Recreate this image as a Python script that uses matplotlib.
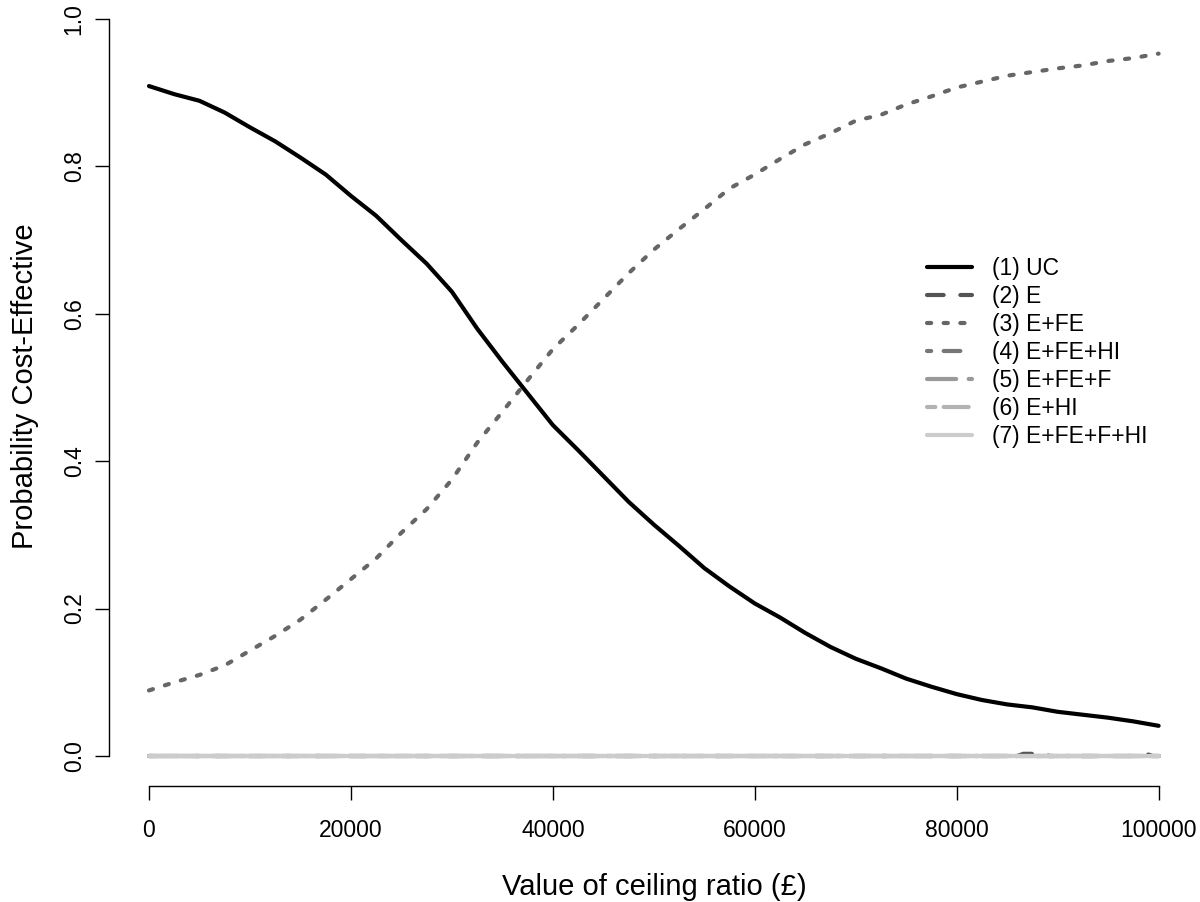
import matplotlib
matplotlib.use("Agg")
import matplotlib.pyplot as plt

plt.rcParams['font.family'] = ['Liberation Sans', 'DejaVu Sans']

# ceiling ratio grid (GBP) and probabilities
wtp = [0, 2500, 5000, 7500, 10000, 12500, 15000, 17500, 20000, 22500,
       25000, 27500, 30000, 32500, 35000, 37500, 40000, 42500, 45000, 47500,
       50000, 52500, 55000, 57500, 60000, 62500, 65000, 67500, 70000, 72500,
       75000, 77500, 80000, 82500, 85000, 87500, 90000, 92500, 95000, 97500,
       100000]

uc = [0.909, 0.898, 0.889, 0.873, 0.853, 0.834, 0.812, 0.789, 0.760, 0.733,
      0.700, 0.668, 0.630, 0.580, 0.535, 0.492, 0.449, 0.415, 0.380, 0.345,
      0.314, 0.285, 0.255, 0.230, 0.207, 0.188, 0.167, 0.148, 0.132, 0.119,
      0.105, 0.094, 0.084, 0.076, 0.070, 0.066, 0.060, 0.056, 0.052, 0.047,
      0.041]

e_fe = [0.089, 0.100, 0.110, 0.123, 0.143, 0.163, 0.185, 0.212, 0.240, 0.268,
        0.303, 0.335, 0.375, 0.425, 0.467, 0.510, 0.552, 0.585, 0.620, 0.655,
        0.687, 0.715, 0.742, 0.770, 0.789, 0.810, 0.830, 0.845, 0.862, 0.870,
        0.884, 0.895, 0.907, 0.915, 0.923, 0.928, 0.933, 0.937, 0.943, 0.947,
        0.953]

# strategy E is ~0 apart from two small blips near the right end
wtp_e = [0, 86000, 86600, 88600, 89200, 98600, 99000, 99400, 100000]
e = [0.0, 0.0, 0.003, 0.003, 0.0, 0.0, 0.002, 0.0, 0.0]

# the remaining strategies stay at zero
wtp_flat = [0, 25000, 50000, 75000, 100000]
e_fe_hi = [0.0, 0.0, 0.0, 0.0, 0.0]
e_fe_f = [0.0, 0.0, 0.0, 0.0, 0.0]
e_hi = [0.0, 0.0, 0.0, 0.0, 0.0]
e_fe_f_hi = [0.0, 0.0, 0.0, 0.0, 0.0]

labels = ["(1) UC", "(2) E", "(3) E+FE", "(4) E+FE+HI",
          "(5) E+FE+F", "(6) E+HI", "(7) E+FE+F+HI"]
greys = ["#000000", "#555555", "#666666", "#777777", "#999999", "#b3b3b3", "#cccccc"]
# R lty 1..6 then recycled
styles = ["-", (0, (4, 4)), (0, (1, 3)), (0, (1, 3, 4, 3)),
          (0, (7, 3)), (0, (2, 2, 6, 2)), "-"]

series = [(wtp, uc), (wtp_e, e), (wtp, e_fe), (wtp_flat, e_fe_hi),
          (wtp_flat, e_fe_f), (wtp_flat, e_hi), (wtp_flat, e_fe_f_hi)]

W, H = 1200, 902
fig = plt.figure(figsize=(W / 100, H / 100), dpi=100)
ax = fig.add_axes([108.6 / W, (H - 785.5) / H, (1199 - 108.6) / W, (785.5 + 10.5) / H])

for (xs, ys), lab, c, ls in zip(series, labels, greys, styles):
    ax.plot(xs, ys, color=c, linestyle=ls, lw=3.0, label=lab,
            dash_capstyle='round', solid_capstyle='round')

ax.set_xlim(-4000, 104000)
ax.set_ylim(-0.04, 1.04)

for s in ['top', 'right']:
    ax.spines[s].set_visible(False)
ax.spines['left'].set_bounds(0, 1)
ax.spines['bottom'].set_bounds(0, 100000)
for s in ['left', 'bottom']:
    ax.spines[s].set_linewidth(1.0)

ax.set_xticks([0, 20000, 40000, 60000, 80000, 100000])
ax.set_xticklabels(["0", "20000", "40000", "60000", "80000", "100000"])
ax.set_yticks([0, 0.2, 0.4, 0.6, 0.8, 1.0])
ax.set_yticklabels(["0.0", "0.2", "0.4", "0.6", "0.8", "1.0"])
ax.tick_params(axis='both', length=10, width=1.0, labelsize=16.5)
ax.tick_params(axis='x', pad=14)
ax.tick_params(axis='y', pad=6.5, labelrotation=90)
for t in ax.get_yticklabels():
    t.set_va('center')

fig.text(654 / W, 1 - 895 / H, "Value of ceiling ratio (£)", fontsize=21,
         ha='center', va='baseline')
fig.text(33 / W, 1 - 386 / H, "Probability Cost-Effective", fontsize=21,
         rotation=90, rotation_mode='anchor', ha='center', va='baseline')

ax.legend(loc='upper left', bbox_to_anchor=(927 / W, 1 - 257 / H),
          bbox_transform=fig.transFigure, frameon=False, fontsize=16.5,
          borderpad=0, borderaxespad=0, handlelength=1.97, handletextpad=0.87,
          labelspacing=0.22)

fig.savefig("out.png", dpi=100)
